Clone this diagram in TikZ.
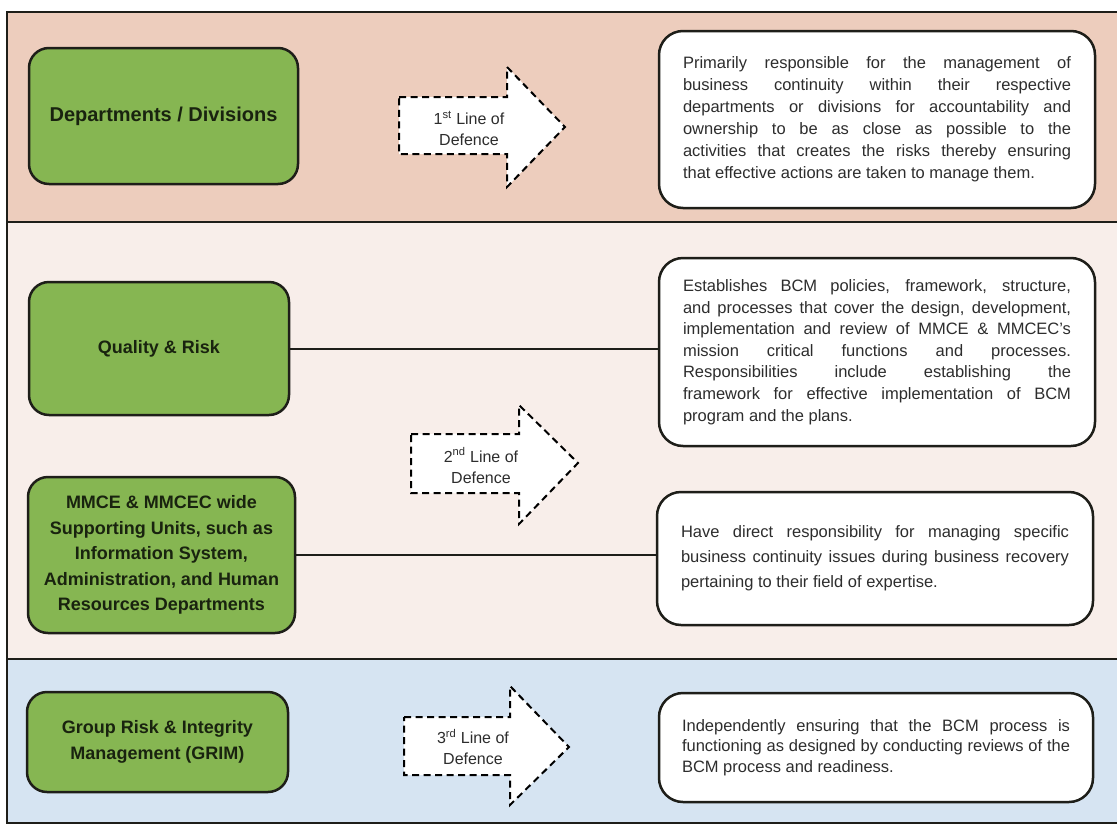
\documentclass[tikz,border=0pt]{standalone}
\usepackage{fontspec}
\setmainfont{Liberation Sans}
\definecolor{peach}{RGB}{237,205,189}
\definecolor{pinkbg}{RGB}{248,238,234}
\definecolor{bluebg}{RGB}{214,228,242}
\definecolor{grnfill}{RGB}{134,182,82}
\definecolor{edgec}{RGB}{30,30,25}
\definecolor{gtext}{RGB}{25,35,15}
\definecolor{btext}{RGB}{45,45,45}
\newlength\tw
\setlength\tw{388pt}
\newcommand\jline[1]{\makebox[\tw][s]{#1}}
\newcommand\lline[1]{\makebox[\tw][l]{#1}}
\begin{document}
\begin{tikzpicture}[x=1pt,y=-1pt,
  grn/.style={draw=edgec, line width=2.5pt, fill=grnfill, rounded corners=20pt,
    align=center, font=\fontsize{18}{25.5}\selectfont\bfseries, text=gtext, inner sep=0pt},
  desc/.style={draw=edgec, line width=2.5pt, fill=white, rounded corners=24pt,
    align=left, font=\fontsize{16.5}{22}\selectfont, text=btext, inner sep=0pt},
  darr/.style={draw=black, fill=white, line width=2pt, dash pattern=on 7pt off 4.5pt},
  arrtext/.style={align=center, font=\fontsize{16}{21}\selectfont, text=btext, inner sep=0pt},
  conn/.style={draw=edgec, line width=2pt},
  band/.style={line width=1.5pt, draw=edgec}
]
\useasboundingbox (0,0) rectangle (1117,825);
\fill[white] (0,0) rectangle (1117,825);
% bands
\fill[peach] (7,12) rectangle (1117,222);
\fill[pinkbg] (7,222) rectangle (1117,659);
\fill[bluebg] (7,659) rectangle (1117,823);
\draw[band] (1117,12) -- (7,12) -- (7,823) -- (1117,823);
\draw[band] (7,222) -- (1117,222);
\draw[band] (7,659) -- (1117,659);

% green boxes
\node[grn, minimum width=269pt, minimum height=136pt, font=\fontsize{20}{25}\selectfont\bfseries] (g1) at (163.5,116) {Departments / Divisions};
\node[grn, minimum width=260pt, minimum height=133pt] (g2) at (159,348.5) {Quality \& Risk};
\node[grn, minimum width=267pt, minimum height=156pt] (g3) at (161.5,555) {MMCE \& MMCEC wide\\Supporting Units, such as\\Information System,\\Administration, and Human\\Resources Departments};
\node[grn, minimum width=261pt, minimum height=100pt] (g4) at (157.5,742) {Group Risk \& Integrity\\Management (GRIM)};

% description boxes
\node[desc, minimum width=436pt, minimum height=177pt] (t1) at (877,119.5) {%
\jline{Primarily responsible for the management of}\\
\jline{business continuity within their respective}\\
\jline{departments or divisions for accountability and}\\
\jline{ownership to be as close as possible to the}\\
\jline{activities that creates the risks thereby ensuring}\\
\lline{that effective actions are taken to manage them.}};
\node[desc, minimum width=436pt, minimum height=188pt, font=\fontsize{16.5}{21.6}\selectfont] (t2) at (877,352) {%
\jline{Establishes BCM policies, framework, structure,}\\
\jline{and processes that cover the design, development,}\\
\jline{implementation and review of MMCE \& MMCEC’s}\\
\jline{mission critical functions and processes.}\\
\jline{Responsibilities include establishing the}\\
\jline{framework for effective implementation of BCM}\\
\lline{program and the plans.}};
\node[desc, minimum width=436pt, minimum height=133pt, font=\fontsize{16.5}{25}\selectfont] (t3) at (875,558.5) {%
\jline{Have direct responsibility for managing specific}\\
\jline{business continuity issues during business recovery}\\
\lline{pertaining to their field of expertise.}};
\node[desc, minimum width=434pt, minimum height=109pt, font=\fontsize{16.5}{20.5}\selectfont] (t4) at (876,747.5) {%
\jline{Independently ensuring that the BCM process is}\\
\jline{functioning as designed by conducting reviews of the}\\
\lline{BCM process and readiness.}};

% dashed arrows
\draw[darr] (399,97) -- (507,97) -- (507,67) -- (565,127) -- (507,187) -- (507,154) -- (399,154) -- cycle;
\node[arrtext] (a1) at (469,128.5) {1\textsuperscript{st} Line of\\Defence};
\draw[darr] (411,434) -- (519,434) -- (519,405) -- (578,463) -- (519,524) -- (519,493) -- (411,493) -- cycle;
\node[arrtext] (a2) at (481,465.5) {2\textsuperscript{nd} Line of\\Defence};
\draw[darr] (404,717) -- (510,717) -- (510,686) -- (569,747) -- (510,805) -- (510,775) -- (404,775) -- cycle;
\node[arrtext] (a3) at (473,747) {3\textsuperscript{rd} Line of\\Defence};

% connectors
\draw[conn] (g2.east) -- (g2.east -| t2.west);
\draw[conn] (g3.east) -- (g3.east -| t3.west);
\end{tikzpicture}
\end{document}
